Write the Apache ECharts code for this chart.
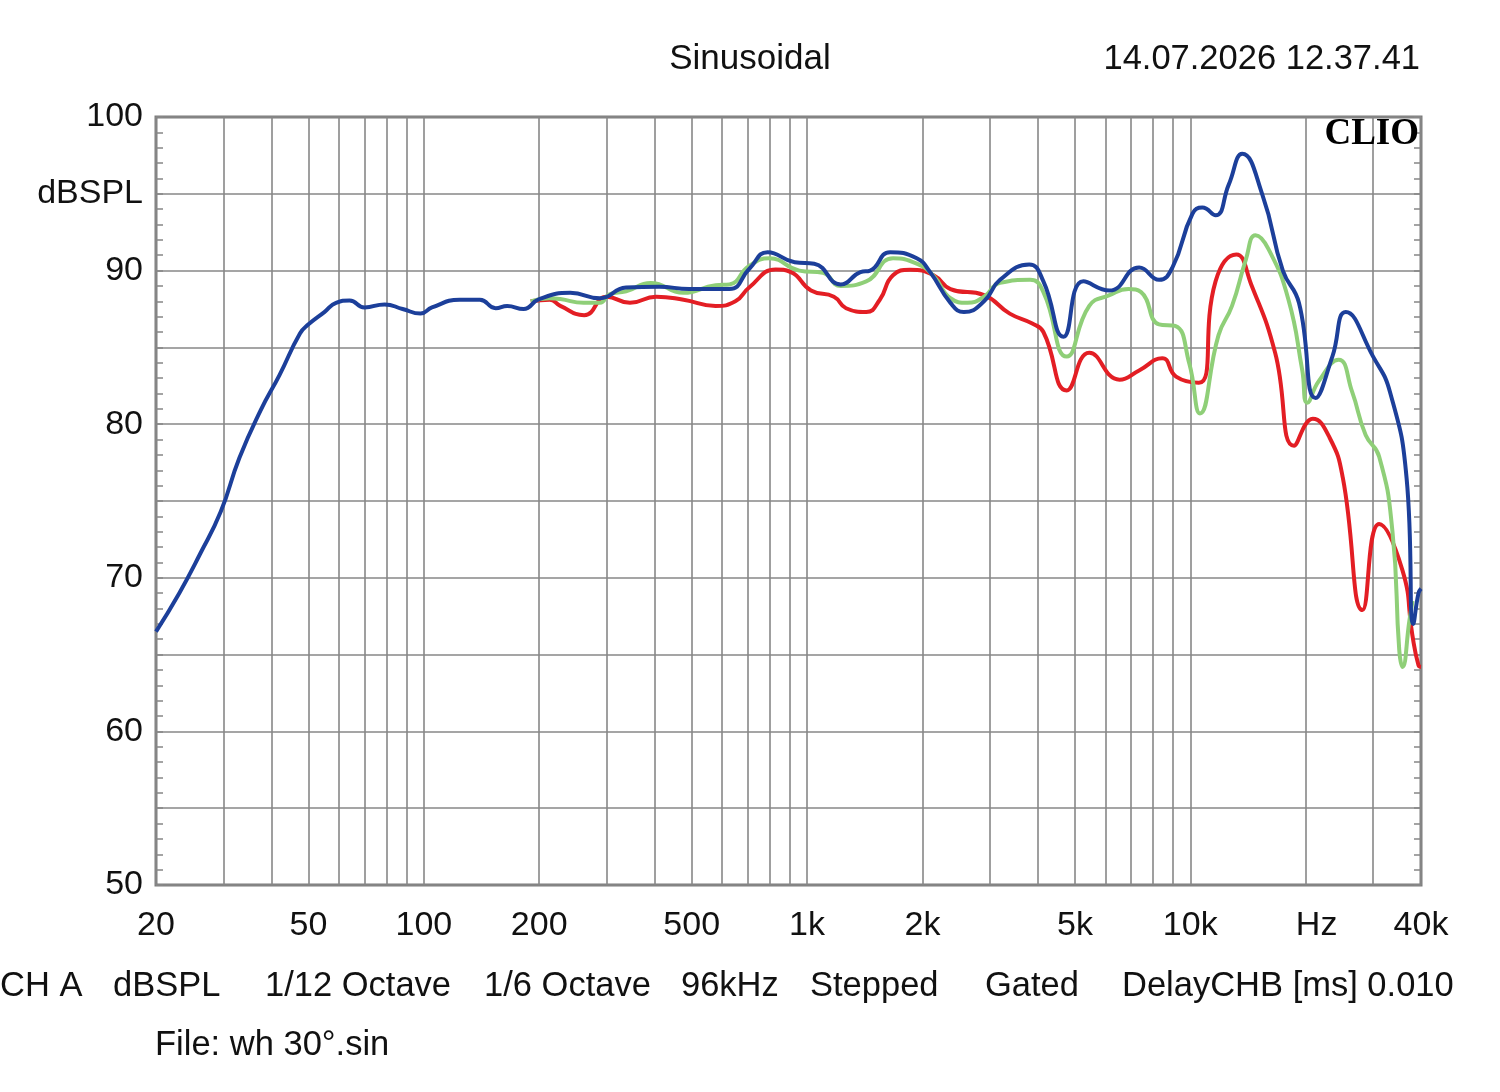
<!DOCTYPE html>
<html>
<head>
<meta charset="utf-8">
<script src="https://cdn.jsdelivr.net/npm/echarts@6/dist/echarts.min.js"></script>
<style>
  html, body { margin: 0; padding: 0; background: #fff; }
  #main { width: 1500px; height: 1092px; }
</style>
</head>
<body>
<div id="main"></div>
<script>
// frequency response, blue trace
var blueFreq = [20, 23, 26, 29.5, 33, 37.5, 42, 47.5, 50, 55, 59, 64, 70, 79, 88, 98, 105, 124, 140, 154, 165, 182, 200,
  241, 288, 337, 411, 493, 627, 706, 789, 928, 1044, 1224, 1378, 1461, 1647, 1933, 2095, 2367, 2566, 2896, 3188,
  3800, 4137, 4665, 5260, 6153, 7353, 8290, 8980, 10130, 10750, 11640, 12600, 13670, 15440, 17440, 19210, 21240,
  23480, 25450, 30000, 33200, 36680, 38200, 39400, 40000];
var blueDb = [66.5, 69.0, 71.5, 74.3, 77.8, 80.9, 83.2, 85.9, 86.5, 87.3, 87.9, 88.05, 87.6, 87.8, 87.5, 87.2, 87.6, 88.1, 88.1, 87.55, 87.7, 87.5, 88.15,
  88.55, 88.2, 88.9, 88.95, 88.8, 88.8, 90.1, 91.2, 90.55, 90.45, 89.1, 89.9, 90.0, 91.2, 90.8, 89.9, 87.9, 87.3, 88.0, 89.4,
  90.4, 89.3, 85.7, 89.3, 88.7, 90.2, 89.4, 90.2, 93.7, 94.1, 93.6, 95.6, 97.6, 94.9, 90.0, 87.9, 81.7,
  84.4, 87.3, 84.4, 82.1, 76.5, 67.0, 69.0, 69.3];

// green trace
var greenFreq = [190, 213, 227, 261, 288, 305, 337, 391, 476, 577, 627, 706, 797, 955, 1100, 1224, 1427, 1676, 1933, 2139,
  2367, 2622, 2896, 3188, 3819, 4137, 4760, 5450, 6153, 6900, 7440, 8290, 9130, 9940, 10600, 11850, 12850, 13960,
  14800, 16000, 18040, 19600, 20200, 21640, 24380, 26450, 28680, 31100, 33700, 35100, 35800, 37300, 38000];
var greenDb = [88.0, 88.2, 88.15, 87.9, 87.9, 88.45, 88.65, 89.2, 88.55, 89.05, 89.1, 90.3, 90.8, 90.0, 89.85, 89.0, 89.3, 90.8, 90.45, 89.65,
  88.2, 87.9, 88.3, 89.2, 89.4, 88.6, 84.4, 87.7, 88.4, 88.8, 88.6, 86.5, 86.4, 83.95, 80.7, 85.8, 87.7, 90.7,
  92.3, 91.4, 88.1, 83.5, 81.4, 82.8, 84.2, 82.1, 79.3, 77.9, 73.0, 65.3, 64.2, 67.2, 68.5];

// red trace
var redFreq = [190, 213, 227, 262, 300, 345, 404, 476, 577, 650, 706, 828, 907, 1024, 1175, 1264, 1427, 1548, 1676, 1856,
  2139, 2367, 2896, 3380, 3870, 4137, 4760, 5450, 6540, 7353, 8450, 9180, 10530, 11640, 13190, 14420, 16650,
  18650, 20880, 23120, 25010, 28140, 31100, 35770, 37960, 39400, 40000];
var redDb = [88.0, 88.1, 87.7, 87.1, 88.3, 87.9, 88.3, 88.1, 87.7, 88.0, 88.9, 90.07, 89.9, 88.7, 88.3, 87.55, 87.3, 88.1, 89.7, 90.05,
  89.7, 88.8, 88.4, 87.2, 86.55, 86.0, 82.2, 84.65, 82.9, 83.5, 84.3, 83.1, 82.7, 89.3, 91.05, 89.1, 84.65,
  78.6, 80.35, 79.1, 76.5, 67.9, 73.5, 70.5, 66.3, 64.3, 64.2];

// axes
var gridFreqs = [20, 30, 40, 50, 60, 70, 80, 90, 100, 200, 300, 400, 500, 600, 700, 800, 900, 1000,
  2000, 3000, 4000, 5000, 6000, 7000, 8000, 9000, 10000, 20000, 30000, 40000];
var labelFreqs = [20, 50, 100, 200, 500, 1000, 2000, 5000, 10000, 20000, 40000];
var labelTexts = ['20', '50', '100', '200', '500', '1k', '2k', '5k', '10k', 'Hz', '40k'];
var yLabels = {100: '100', 95: 'dBSPL', 90: '90', 80: '80', 70: '70', 60: '60', 50: '50'};

var bottomTexts = ['CH A', 'dBSPL', '1/12 Octave', '1/6 Octave', '96kHz', 'Stepped', 'Gated', 'DelayCHB [ms] 0.010'];
var bottomX = [0, 113, 265, 484, 681, 810, 985, 1122];

var FONT = 'Liberation Sans, Arial, sans-serif';
var GRID = '#878787';

function lg(f) { return Math.log10(f); }
function pairs(fs, ds) {
  var out = [];
  for (var i = 0; i < fs.length; i++) out.push([lg(fs[i]), ds[i]]);
  return out;
}
function freqLabel(v) {
  var f = Math.round(Math.pow(10, v));
  var i = labelFreqs.indexOf(f);
  if (i < 0) return '';
  if (labelTexts[i] === 'Hz') return '{hz|Hz}';
  return labelTexts[i];
}
function line(name, data, color) {
  return {
    name: name,
    type: 'line',
    data: data,
    showSymbol: false,
    smooth: 0.5,
    lineStyle: { color: color, width: 4 },
    z: 3
  };
}

var yAxisBase = {
  type: 'value',
  min: 50,
  max: 100,
  interval: 5,
  axisLine: { show: false },
  axisTick: { show: true, inside: true, length: 7, lineStyle: { color: GRID, width: 1.5 } },
  minorTick: { show: true, splitNumber: 5, length: 7, lineStyle: { color: GRID, width: 1.5 } },
  splitLine: { show: true, lineStyle: { color: GRID, width: 1.6 } }
};

var chart = echarts.init(document.getElementById('main'));
chart.setOption({
  animation: false,
  backgroundColor: '#fff',
  grid: {
    left: 156, right: 79, top: 117, bottom: 207,
    show: true, borderColor: '#7d7d7d', borderWidth: 3, backgroundColor: 'transparent'
  },
  xAxis: {
    type: 'value',
    min: lg(20),
    max: lg(40000),
    axisLine: { show: false },
    axisTick: { show: false, customValues: gridFreqs.map(lg) },
    splitLine: { show: true, lineStyle: { color: GRID, width: 1.6 } },
    axisLabel: {
      customValues: labelFreqs.map(lg),
      formatter: freqLabel,
      color: '#111',
      fontSize: 34,
      fontFamily: FONT,
      margin: 24,
      rich: { hz: { fontSize: 34, fontFamily: FONT, color: '#111', padding: [0, 0, 0, 22] } }
    }
  },
  yAxis: [
    Object.assign({}, yAxisBase, {
      position: 'left',
      axisLabel: {
        formatter: function (v) { return yLabels[v] || ''; },
        color: '#111', fontSize: 34, fontFamily: FONT, margin: 13,
        padding: [4, 0, 0, 0]
      }
    }),
    Object.assign({}, yAxisBase, {
      position: 'right',
      splitLine: { show: false },
      axisLabel: { show: false }
    })
  ],
  series: [
    line('red', pairs(redFreq, redDb), '#e31e24'),
    line('green', pairs(greenFreq, greenDb), '#8fcf78'),
    line('blue', pairs(blueFreq, blueDb), '#1c3f9a')
  ],
  graphic: [
    { type: 'text', left: 'center', top: 42, style: { text: 'Sinusoidal', font: '35px ' + FONT, fill: '#111' } },
    { type: 'text', right: 80, top: 42, style: { text: '14.07.2026 12.37.41', font: '34.5px ' + FONT, fill: '#111' } },
    { type: 'text', right: 81, top: 116, z: 10, style: { text: 'CLIO', font: 'bold 37px Liberation Serif, Times New Roman, serif', fill: '#000' } },
    { type: 'text', left: 155, top: 1028, style: { text: 'File: wh 30°.sin', font: '34.5px ' + FONT, fill: '#111' } }
  ].concat(bottomTexts.map(function (t, i) {
    return { type: 'text', left: bottomX[i], top: 969, style: { text: t, font: '34.5px ' + FONT, fill: '#111' } };
  }))
});
</script>
</body>
</html>
